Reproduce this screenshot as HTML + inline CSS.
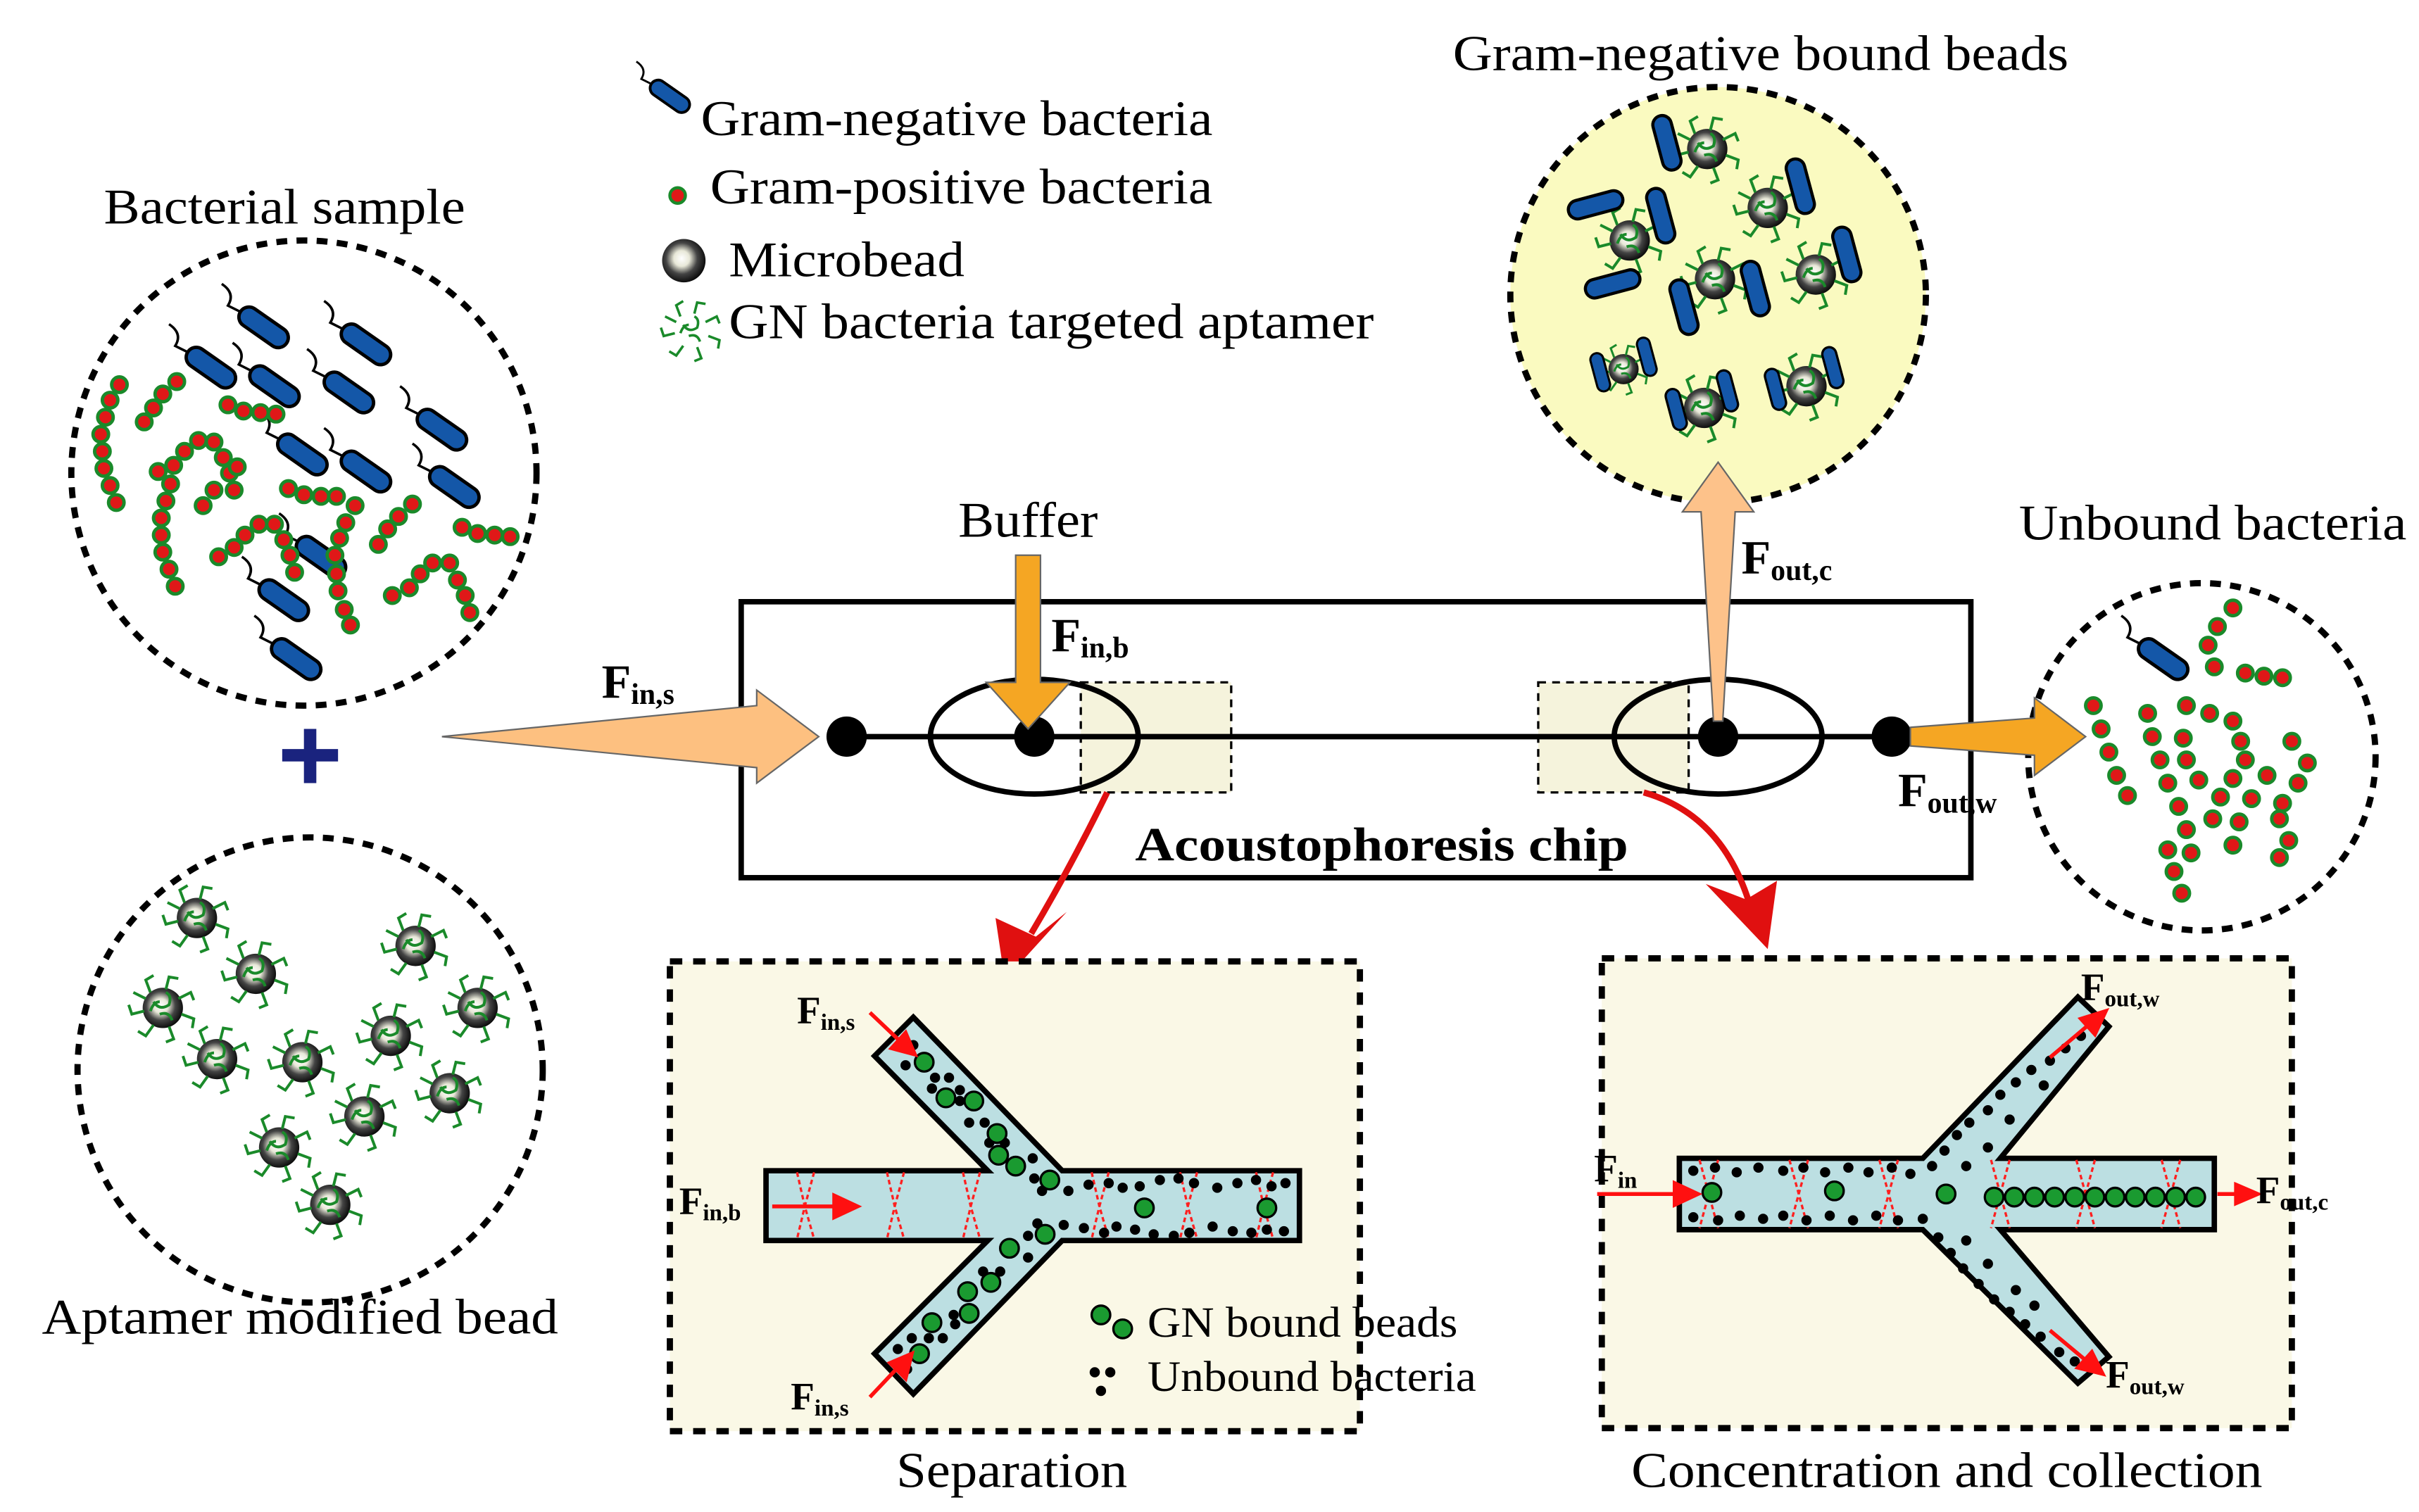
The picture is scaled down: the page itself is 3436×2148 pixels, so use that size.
<!DOCTYPE html>
<html><head><meta charset="utf-8"><style>
html,body{margin:0;padding:0;background:#fff;}
svg{display:block;}
text{font-family:"Liberation Serif",serif;}
</style></head><body>
<svg width="3436" height="2148" viewBox="0 0 1560 975" xmlns="http://www.w3.org/2000/svg">
<defs>
<radialGradient id="bg" cx="0.45" cy="0.45" r="0.6">
<stop offset="0" stop-color="#fff"/><stop offset="0.3" stop-color="#e8e8d8"/><stop offset="0.6" stop-color="#444"/><stop offset="1" stop-color="#000"/></radialGradient>
<g id="rod"><path d="M-15,-10 L-23,-14 Q-18,-22 -27,-28" fill="none" stroke="#000" stroke-width="1.6"/><rect x="-18" y="-6.5" width="36" height="13" rx="6.5" fill="#1457a8" stroke="#000" stroke-width="2.2" transform="rotate(35)"/></g>
<g id="rodv"><rect x="-18" y="-6" width="36" height="12" rx="6" fill="#1457a8" stroke="#000" stroke-width="2"/></g>
<g id="apt" fill="none" stroke="#1a8a2a" stroke-width="1.8">
<path d="M-8,-10 l-3,-8 l5,-3 M2,-12 l2,-8 l6,1 M10,-6 l8,-4 l2,5 M12,4 l8,3 l-1,6 M4,12 l3,8 l-5,2 M-6,11 l-5,7 l-5,-3 M-12,2 l-8,2 l-2,-6 M-11,-6 l-8,-4"/>
<path d="M-6,-4 q4,6 10,2 q2,-6 -2,-8 M-2,4 q6,-2 8,4 M-8,2 q2,-6 6,-6"/></g>
<g id="bead"><circle r="13" fill="url(#bg)"/><use href="#apt"/></g>
</defs>

<!-- legend -->
<g transform="translate(432,62) scale(0.8)"><use href="#rod"/></g>
<circle cx="437" cy="126" r="5" fill="#e01818" stroke="#1a8a2a" stroke-width="2"/>
<circle cx="441" cy="168" r="14" fill="url(#bg)"/>
<g transform="translate(446,213) scale(0.9)"><use href="#apt"/></g>
<text x="452" y="87" font-size="32" textLength="330" lengthAdjust="spacingAndGlyphs">Gram-negative bacteria</text>
<text x="458" y="131" font-size="32" textLength="324" lengthAdjust="spacingAndGlyphs">Gram-positive bacteria</text>
<text x="470" y="178" font-size="32" textLength="152" lengthAdjust="spacingAndGlyphs">Microbead</text>
<text x="470" y="218" font-size="32" textLength="416" lengthAdjust="spacingAndGlyphs">GN bacteria targeted aptamer</text>

<!-- bacterial sample -->
<text x="67" y="144" font-size="32" textLength="233" lengthAdjust="spacingAndGlyphs">Bacterial sample</text>
<circle cx="196" cy="305" r="150" fill="#fff" stroke="#000" stroke-width="4" stroke-dasharray="7,6"/>
<g>
<use href="#rod" x="170" y="211"/><use href="#rod" x="236" y="222"/><use href="#rod" x="136" y="237"/><use href="#rod" x="177" y="249"/><use href="#rod" x="225" y="253"/><use href="#rod" x="285" y="277"/><use href="#rod" x="195" y="293"/><use href="#rod" x="236" y="304"/><use href="#rod" x="293" y="314"/><use href="#rod" x="207" y="359"/><use href="#rod" x="183" y="387"/><use href="#rod" x="191" y="425"/>
</g>
<g fill="#e01818" stroke="#1a8a2a" stroke-width="2.2">
<circle cx="77" cy="248" r="5"/><circle cx="71" cy="258" r="5"/><circle cx="68" cy="269" r="5"/><circle cx="65" cy="280" r="5"/><circle cx="66" cy="291" r="5"/><circle cx="67" cy="302" r="5"/><circle cx="71" cy="313" r="5"/><circle cx="75" cy="324" r="5"/>
<circle cx="114" cy="246" r="5"/><circle cx="105" cy="254" r="5"/><circle cx="99" cy="263" r="5"/><circle cx="93" cy="272" r="5"/>
<circle cx="147" cy="261" r="5"/><circle cx="157" cy="265" r="5"/><circle cx="168" cy="266" r="5"/><circle cx="178" cy="267" r="5"/>
<circle cx="113" cy="378" r="5"/><circle cx="109" cy="367" r="5"/><circle cx="105" cy="356" r="5"/><circle cx="104" cy="345" r="5"/><circle cx="104" cy="334" r="5"/><circle cx="107" cy="323" r="5"/><circle cx="110" cy="312" r="5"/><circle cx="112" cy="300" r="5"/><circle cx="119" cy="291" r="5"/><circle cx="128" cy="284" r="5"/><circle cx="138" cy="285" r="5"/><circle cx="144" cy="295" r="5"/><circle cx="148" cy="305" r="5"/><circle cx="151" cy="316" r="5"/>
<circle cx="102" cy="304" r="5"/><circle cx="131" cy="326" r="5"/><circle cx="138" cy="316" r="5"/><circle cx="153" cy="301" r="5"/>
<circle cx="186" cy="315" r="5"/><circle cx="196" cy="319" r="5"/><circle cx="207" cy="320" r="5"/><circle cx="217" cy="320" r="5"/>
<circle cx="229" cy="326" r="5"/><circle cx="223" cy="337" r="5"/><circle cx="219" cy="347" r="5"/><circle cx="216" cy="358" r="5"/><circle cx="217" cy="370" r="5"/><circle cx="218" cy="381" r="5"/><circle cx="222" cy="393" r="5"/><circle cx="226" cy="403" r="5"/>
<circle cx="141" cy="359" r="5"/><circle cx="151" cy="353" r="5"/><circle cx="158" cy="345" r="5"/><circle cx="167" cy="338" r="5"/><circle cx="177" cy="338" r="5"/><circle cx="183" cy="348" r="5"/><circle cx="187" cy="358" r="5"/><circle cx="190" cy="369" r="5"/>
<circle cx="266" cy="325" r="5"/><circle cx="257" cy="333" r="5"/><circle cx="250" cy="341" r="5"/><circle cx="244" cy="351" r="5"/>
<circle cx="298" cy="340" r="5"/><circle cx="308" cy="344" r="5"/><circle cx="319" cy="345" r="5"/><circle cx="329" cy="346" r="5"/>
<circle cx="253" cy="384" r="5"/><circle cx="264" cy="379" r="5"/><circle cx="271" cy="370" r="5"/><circle cx="279" cy="363" r="5"/><circle cx="290" cy="363" r="5"/><circle cx="295" cy="374" r="5"/><circle cx="300" cy="384" r="5"/><circle cx="303" cy="395" r="5"/>
</g>

<!-- plus -->
<path d="M200,470 V505 M182,487 H218" stroke="#1a237e" stroke-width="8"/>

<!-- aptamer beads -->
<circle cx="200" cy="690" r="150" fill="#fff" stroke="#000" stroke-width="4" stroke-dasharray="7,6"/>
<use href="#bead" x="127" y="592"/><use href="#bead" x="268" y="610"/><use href="#bead" x="165" y="628"/><use href="#bead" x="308" y="650"/><use href="#bead" x="105" y="650"/><use href="#bead" x="252" y="668"/><use href="#bead" x="195" y="685"/><use href="#bead" x="140" y="683"/><use href="#bead" x="290" y="705"/><use href="#bead" x="235" y="720"/><use href="#bead" x="180" y="740"/><use href="#bead" x="213" y="777"/>
<text x="27" y="860" font-size="32" textLength="333" lengthAdjust="spacingAndGlyphs">Aptamer modified bead</text>

<!-- GN bound beads -->
<text x="937" y="45" font-size="32" textLength="397" lengthAdjust="spacingAndGlyphs">Gram-negative bound beads</text>
<circle cx="1108" cy="190" r="134" fill="#fafac0" stroke="#000" stroke-width="4" stroke-dasharray="7,6"/>
<use href="#bead" x="1101" y="96"/><use href="#bead" x="1140" y="134"/><use href="#bead" x="1051" y="155"/><use href="#bead" x="1106" y="180"/><use href="#bead" x="1171" y="177"/><use href="#bead" x="1099" y="263"/><use href="#bead" x="1165" y="249"/>
<g transform="translate(1047,238) scale(0.75)"><use href="#bead"/></g>
<g>
<g transform="translate(1075,92) rotate(75)"><use href="#rodv"/></g>
<g transform="translate(1029,132) rotate(-15)"><use href="#rodv"/></g>
<g transform="translate(1071,139) rotate(75)"><use href="#rodv"/></g>
<g transform="translate(1161,120) rotate(75)"><use href="#rodv"/></g>
<g transform="translate(1040,183) rotate(-15)"><use href="#rodv"/></g>
<g transform="translate(1086,198) rotate(75)"><use href="#rodv"/></g>
<g transform="translate(1132,186) rotate(75)"><use href="#rodv"/></g>
<g transform="translate(1191,164) rotate(75)"><use href="#rodv"/></g>
<g transform="translate(1032,240) rotate(75) scale(0.7)"><use href="#rodv"/></g>
<g transform="translate(1062,230) rotate(75) scale(0.7)"><use href="#rodv"/></g>
<g transform="translate(1081,264) rotate(75) scale(0.75)"><use href="#rodv"/></g>
<g transform="translate(1114,252) rotate(75) scale(0.75)"><use href="#rodv"/></g>
<g transform="translate(1145,251) rotate(75) scale(0.75)"><use href="#rodv"/></g>
<g transform="translate(1182,237) rotate(75) scale(0.75)"><use href="#rodv"/></g>
</g>

<!-- chip -->
<rect x="478" y="388" width="793" height="178" fill="#fff" stroke="#000" stroke-width="3.5"/>
<rect x="697" y="440" width="97" height="71" fill="#f5f3dc" stroke="#000" stroke-width="1.5" stroke-dasharray="5,4"/>
<rect x="992" y="440" width="97" height="71" fill="#f5f3dc" stroke="#000" stroke-width="1.5" stroke-dasharray="5,4"/>
<line x1="546" y1="475" x2="1220" y2="475" stroke="#000" stroke-width="3.5"/>
<ellipse cx="667" cy="475" rx="67" ry="37" fill="none" stroke="#000" stroke-width="3.5"/>
<ellipse cx="1108" cy="475" rx="67" ry="37" fill="none" stroke="#000" stroke-width="3.5"/>
<circle cx="546" cy="475" r="13"/><circle cx="667" cy="475" r="13"/><circle cx="1108" cy="475" r="13"/><circle cx="1220" cy="475" r="13"/>
<text x="732" y="555" font-size="31" font-weight="bold" textLength="318" lengthAdjust="spacingAndGlyphs">Acoustophoresis chip</text>

<!-- unbound bacteria -->
<text x="1302" y="348" font-size="32" textLength="250" lengthAdjust="spacingAndGlyphs">Unbound bacteria</text>
<circle cx="1420" cy="488" r="112" fill="#fff" stroke="#000" stroke-width="4" stroke-dasharray="7,6"/>
<use href="#rod" x="1395" y="425"/>
<g fill="#e01818" stroke="#1a8a2a" stroke-width="2.2">
<circle cx="1440" cy="392" r="5"/><circle cx="1430" cy="404" r="5"/><circle cx="1424" cy="416" r="5"/><circle cx="1428" cy="430" r="5"/>
<circle cx="1448" cy="434" r="5"/><circle cx="1460" cy="436" r="5"/><circle cx="1472" cy="437" r="5"/>
<circle cx="1350" cy="455" r="5"/><circle cx="1355" cy="470" r="5"/><circle cx="1360" cy="485" r="5"/><circle cx="1365" cy="500" r="5"/><circle cx="1372" cy="513" r="5"/>
<circle cx="1385" cy="460" r="5"/><circle cx="1388" cy="475" r="5"/><circle cx="1393" cy="490" r="5"/><circle cx="1398" cy="505" r="5"/><circle cx="1405" cy="520" r="5"/><circle cx="1410" cy="535" r="5"/><circle cx="1413" cy="550" r="5"/>
<circle cx="1410" cy="455" r="5"/><circle cx="1425" cy="460" r="5"/><circle cx="1440" cy="465" r="5"/>
<circle cx="1408" cy="476" r="5"/><circle cx="1410" cy="490" r="5"/><circle cx="1418" cy="503" r="5"/>
<circle cx="1445" cy="478" r="5"/><circle cx="1448" cy="490" r="5"/><circle cx="1440" cy="502" r="5"/><circle cx="1432" cy="514" r="5"/><circle cx="1427" cy="528" r="5"/>
<circle cx="1478" cy="478" r="5"/><circle cx="1488" cy="492" r="5"/><circle cx="1482" cy="505" r="5"/><circle cx="1472" cy="518" r="5"/>
<circle cx="1462" cy="500" r="5"/><circle cx="1452" cy="515" r="5"/><circle cx="1444" cy="530" r="5"/><circle cx="1440" cy="545" r="5"/>
<circle cx="1470" cy="528" r="5"/><circle cx="1476" cy="542" r="5"/><circle cx="1470" cy="553" r="5"/>
<circle cx="1398" cy="548" r="5"/><circle cx="1402" cy="562" r="5"/><circle cx="1407" cy="576" r="5"/>
</g>

<!-- arrows -->
<polygon points="285,475 488,455 488,445 528,475 488,505 488,495" fill="#fdc080" stroke="#666" stroke-width="1"/>
<polygon points="655,358 671,358 671,440 690,440 663,470 636,440 655,440" fill="#f5a623" stroke="#666" stroke-width="1"/>
<polygon points="1105,465 1111,465 1119,330 1131,330 1108,298 1085,330 1097,330" fill="#fdc28a" stroke="#666" stroke-width="1"/>
<polygon points="1232,469 1312,463 1312,450 1345,475 1312,500 1312,487 1232,481" fill="#f5a623" stroke="#666" stroke-width="1"/>
<text x="618" y="346" font-size="32" textLength="90" lengthAdjust="spacingAndGlyphs">Buffer</text>
<text x="388" y="450" font-size="31" font-weight="bold">F<tspan font-size="19" dy="4">in,s</tspan></text>
<text x="678" y="420" font-size="31" font-weight="bold">F<tspan font-size="19" dy="4">in,b</tspan></text>
<text x="1123" y="370" font-size="31" font-weight="bold">F<tspan font-size="19" dy="4">out,c</tspan></text>
<text x="1224" y="520" font-size="31" font-weight="bold">F<tspan font-size="19" dy="4">out,w</tspan></text>

<!-- red curved arrows -->
<path d="M714,511 Q690,560 665,602" fill="none" stroke="#e01010" stroke-width="4"/>
<polygon points="648,632 642,592 668,604 688,588" fill="#e01010"/>
<path d="M1060,511 Q1110,525 1128,582" fill="none" stroke="#e01010" stroke-width="4"/>
<polygon points="1140,612 1100,570 1126,580 1146,568" fill="#e01010"/>

<!-- separation box -->
<rect x="432" y="620" width="445" height="303" fill="#faf8e6" stroke="#000" stroke-width="4" stroke-dasharray="8,7"/>
<polygon points="494,755 637,755 564,681 589,656 685,755 838,755 838,800 685,800 589,899 564,873 637,800 494,800" fill="#bcdfe2" stroke="#000" stroke-width="3.5"/>
<g fill="none" stroke="#ff2020" stroke-width="1.5" stroke-dasharray="3,2">
<path d="M514,756 L519,778 L514,799 M525,756 L519,778 L525,799"/>
<path d="M572,756 L577,778 L572,799 M583,756 L577,778 L583,799"/>
<path d="M621,756 L626,778 L621,799 M632,756 L626,778 L632,799"/>
<path d="M704,756 L709,778 L704,799 M715,756 L709,778 L715,799"/>
<path d="M761,756 L766,778 L761,799 M772,756 L766,778 L772,799"/>
<path d="M810,756 L815,778 L810,799 M821,756 L815,778 L821,799"/>
</g>
<g fill="#000">
<circle cx="589" cy="674" r="3.3"/><circle cx="584" cy="687" r="3.3"/><circle cx="603" cy="695" r="3.3"/><circle cx="612" cy="695" r="3.3"/><circle cx="601" cy="702" r="3.3"/><circle cx="619" cy="703" r="3.3"/><circle cx="619" cy="710" r="3.3"/><circle cx="625" cy="724" r="3.3"/><circle cx="635" cy="724" r="3.3"/><circle cx="638" cy="737" r="3.3"/><circle cx="648" cy="737" r="3.3"/><circle cx="666" cy="747" r="3.3"/><circle cx="667" cy="760" r="3.3"/><circle cx="672" cy="768" r="3.3"/><circle cx="689" cy="768" r="3.3"/><circle cx="702" cy="764" r="3.3"/><circle cx="715" cy="763" r="3.3"/><circle cx="724" cy="766" r="3.3"/><circle cx="735" cy="765" r="3.3"/><circle cx="748" cy="761" r="3.3"/><circle cx="760" cy="760" r="3.3"/><circle cx="770" cy="763" r="3.3"/><circle cx="785" cy="766" r="3.3"/><circle cx="798" cy="763" r="3.3"/><circle cx="810" cy="761" r="3.3"/><circle cx="820" cy="765" r="3.3"/><circle cx="829" cy="763" r="3.3"/>
<circle cx="686" cy="790" r="3.3"/><circle cx="669" cy="789" r="3.3"/><circle cx="663" cy="797" r="3.3"/><circle cx="663" cy="811" r="3.3"/><circle cx="634" cy="820" r="3.3"/><circle cx="645" cy="820" r="3.3"/><circle cx="615" cy="848" r="3.3"/><circle cx="616" cy="854" r="3.3"/><circle cx="608" cy="863" r="3.3"/><circle cx="599" cy="863" r="3.3"/><circle cx="588" cy="863" r="3.3"/><circle cx="579" cy="870" r="3.3"/><circle cx="585" cy="883" r="3.3"/>
<circle cx="699" cy="792" r="3.3"/><circle cx="712" cy="795" r="3.3"/><circle cx="720" cy="791" r="3.3"/><circle cx="732" cy="793" r="3.3"/><circle cx="744" cy="796" r="3.3"/><circle cx="757" cy="797" r="3.3"/><circle cx="767" cy="795" r="3.3"/><circle cx="782" cy="791" r="3.3"/><circle cx="795" cy="794" r="3.3"/><circle cx="807" cy="795" r="3.3"/><circle cx="817" cy="793" r="3.3"/><circle cx="828" cy="794" r="3.3"/>
</g>
<g fill="#1a9a30" stroke="#000" stroke-width="1.5">
<circle cx="596" cy="685" r="6"/><circle cx="610" cy="708" r="6"/><circle cx="628" cy="710" r="6"/><circle cx="643" cy="731" r="6"/><circle cx="644" cy="745" r="6"/><circle cx="655" cy="752" r="6"/><circle cx="677" cy="761" r="6"/><circle cx="674" cy="796" r="6"/><circle cx="651" cy="805" r="6"/><circle cx="639" cy="827" r="6"/><circle cx="624" cy="833" r="6"/><circle cx="625" cy="847" r="6"/><circle cx="601" cy="853" r="6"/><circle cx="593" cy="873" r="6"/><circle cx="738" cy="779" r="6"/><circle cx="817" cy="779" r="6"/>
<circle cx="710" cy="848" r="6"/><circle cx="724" cy="857" r="6"/>
</g>
<g fill="#000"><circle cx="706" cy="885" r="3.3"/><circle cx="716" cy="885" r="3.3"/><circle cx="710" cy="897" r="3.3"/></g>
<g stroke="#ff1010" stroke-width="2.5" fill="#ff1010">
<line x1="561" y1="653" x2="580" y2="671"/><polygon points="590,680 575,676 584,666"/>
<line x1="498" y1="778" x2="540" y2="778"/><polygon points="553,778 538,771 538,785"/>
<line x1="561" y1="901" x2="578" y2="883"/><polygon points="588,873 584,889 574,879"/>
</g>
<text x="514" y="660" font-size="25" font-weight="bold">F<tspan font-size="15" dy="4">in,s</tspan></text>
<text x="438" y="783" font-size="25" font-weight="bold">F<tspan font-size="15" dy="4">in,b</tspan></text>
<text x="510" y="909" font-size="25" font-weight="bold">F<tspan font-size="15" dy="4">in,s</tspan></text>
<text x="740" y="862" font-size="28" textLength="200" lengthAdjust="spacingAndGlyphs">GN bound beads</text>
<text x="740" y="897" font-size="28" textLength="212" lengthAdjust="spacingAndGlyphs">Unbound bacteria</text>
<text x="578" y="959" font-size="32" textLength="149" lengthAdjust="spacingAndGlyphs">Separation</text>

<!-- concentration box -->
<rect x="1033" y="618" width="445" height="303" fill="#faf8e6" stroke="#000" stroke-width="4" stroke-dasharray="8,7"/>
<polygon points="1083,747 1240,747 1340,643 1360,662 1290,747 1428,747 1428,793 1290,793 1360,875 1340,892 1240,793 1083,793" fill="#bcdfe2" stroke="#000" stroke-width="3.5"/>
<g fill="none" stroke="#ff2020" stroke-width="1.5" stroke-dasharray="3,2">
<path d="M1096,748 L1102,770 L1096,792 M1108,748 L1102,770 L1108,792"/>
<path d="M1154,748 L1160,770 L1154,792 M1166,748 L1160,770 L1166,792"/>
<path d="M1212,748 L1218,770 L1212,792 M1224,748 L1218,770 L1224,792"/>
<path d="M1284,748 L1290,770 L1284,792 M1296,748 L1290,770 L1296,792"/>
<path d="M1339,748 L1345,770 L1339,792 M1351,748 L1345,770 L1351,792"/>
<path d="M1394,748 L1400,770 L1394,792 M1406,748 L1400,770 L1406,792"/>
</g>
<g fill="#000">
<circle cx="1092" cy="755" r="3.3"/><circle cx="1106" cy="753" r="3.3"/><circle cx="1120" cy="756" r="3.3"/><circle cx="1134" cy="753" r="3.3"/><circle cx="1150" cy="755" r="3.3"/><circle cx="1163" cy="753" r="3.3"/><circle cx="1177" cy="756" r="3.3"/><circle cx="1192" cy="753" r="3.3"/><circle cx="1205" cy="756" r="3.3"/><circle cx="1220" cy="753" r="3.3"/><circle cx="1232" cy="757" r="3.3"/><circle cx="1246" cy="752" r="3.3"/><circle cx="1254" cy="742" r="3.3"/><circle cx="1262" cy="732" r="3.3"/><circle cx="1270" cy="724" r="3.3"/><circle cx="1282" cy="716" r="3.3"/><circle cx="1290" cy="706" r="3.3"/><circle cx="1300" cy="698" r="3.3"/><circle cx="1310" cy="690" r="3.3"/><circle cx="1322" cy="684" r="3.3"/><circle cx="1332" cy="676" r="3.3"/><circle cx="1342" cy="668" r="3.3"/><circle cx="1268" cy="752" r="3.3"/><circle cx="1282" cy="740" r="3.3"/><circle cx="1296" cy="722" r="3.3"/><circle cx="1318" cy="700" r="3.3"/>
<circle cx="1092" cy="785" r="3.3"/><circle cx="1108" cy="787" r="3.3"/><circle cx="1122" cy="784" r="3.3"/><circle cx="1137" cy="786" r="3.3"/><circle cx="1150" cy="784" r="3.3"/><circle cx="1165" cy="787" r="3.3"/><circle cx="1180" cy="784" r="3.3"/><circle cx="1195" cy="787" r="3.3"/><circle cx="1210" cy="784" r="3.3"/><circle cx="1224" cy="787" r="3.3"/><circle cx="1240" cy="786" r="3.3"/><circle cx="1250" cy="798" r="3.3"/><circle cx="1258" cy="808" r="3.3"/><circle cx="1266" cy="818" r="3.3"/><circle cx="1276" cy="828" r="3.3"/><circle cx="1286" cy="838" r="3.3"/><circle cx="1296" cy="846" r="3.3"/><circle cx="1306" cy="854" r="3.3"/><circle cx="1316" cy="862" r="3.3"/><circle cx="1328" cy="872" r="3.3"/><circle cx="1338" cy="878" r="3.3"/><circle cx="1268" cy="800" r="3.3"/><circle cx="1282" cy="815" r="3.3"/><circle cx="1300" cy="832" r="3.3"/><circle cx="1312" cy="842" r="3.3"/>
</g>
<g fill="#1a9a30" stroke="#000" stroke-width="1.5">
<circle cx="1104" cy="769" r="6"/><circle cx="1183" cy="768" r="6"/><circle cx="1255" cy="770" r="6"/>
<circle cx="1286" cy="772" r="6"/><circle cx="1299" cy="772" r="6"/><circle cx="1312" cy="772" r="6"/><circle cx="1325" cy="772" r="6"/><circle cx="1338" cy="772" r="6"/><circle cx="1351" cy="772" r="6"/><circle cx="1364" cy="772" r="6"/><circle cx="1377" cy="772" r="6"/><circle cx="1390" cy="772" r="6"/><circle cx="1403" cy="772" r="6"/><circle cx="1416" cy="772" r="6"/>
</g>
<g stroke="#ff1010" stroke-width="2.5" fill="#ff1010">
<line x1="1030" y1="770" x2="1082" y2="770"/><polygon points="1095,770 1080,763 1080,777"/>
<line x1="1430" y1="770" x2="1444" y2="770"/><polygon points="1456,770 1442,764 1442,776"/>
<line x1="1322" y1="682" x2="1348" y2="660"/><polygon points="1358,652 1351,667 1342,657"/>
<line x1="1322" y1="858" x2="1346" y2="878"/><polygon points="1356,886 1340,882 1349,872"/>
</g>
<text x="1028" y="762" font-size="25" font-weight="bold">F<tspan font-size="15" dy="4">in</tspan></text>
<text x="1455" y="776" font-size="25" font-weight="bold">F<tspan font-size="15" dy="4">out,c</tspan></text>
<text x="1342" y="645" font-size="25" font-weight="bold">F<tspan font-size="15" dy="4">out,w</tspan></text>
<text x="1358" y="895" font-size="25" font-weight="bold">F<tspan font-size="15" dy="4">out,w</tspan></text>
<text x="1052" y="959" font-size="32" textLength="407" lengthAdjust="spacingAndGlyphs">Concentration and collection</text>
</svg>
</body></html>
